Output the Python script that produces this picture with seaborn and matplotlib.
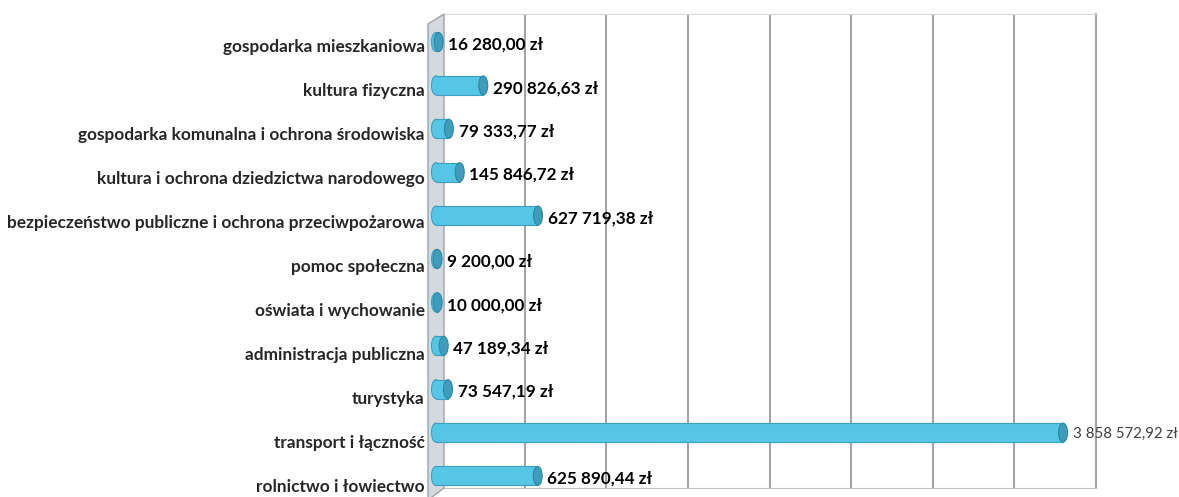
import matplotlib
matplotlib.use('Agg')
import matplotlib.pyplot as plt
from matplotlib.patches import Ellipse, Polygon
import seaborn as sns
import pandas as pd

# Wartości (wydatki wg działów)
categories = [
    "gospodarka mieszkaniowa",
    "kultura fizyczna",
    "gospodarka komunalna i ochrona środowiska",
    "kultura i ochrona dziedzictwa narodowego",
    "bezpieczeństwo publiczne i ochrona przeciwpożarowa",
    "pomoc społeczna",
    "oświata i wychowanie",
    "administracja publiczna",
    "turystyka",
    "transport i łączność",
    "rolnictwo i łowiectwo",
]
values = [16280.00, 290826.63, 79333.77, 145846.72, 627719.38, 9200.00,
          10000.00, 47189.34, 73547.19, 3858572.92, 625890.44]
x_max = 4000000
grid_step = 500000

sns.set_style('white')
plt.rcParams['font.family'] = ['Lato', 'DejaVu Sans']

W, H = 1179, 497
fig = plt.figure(figsize=(W / 100, H / 100), dpi=100)


def frac(x0, y0, x1, y1):
    # pixel box (top-left origin) -> figure fraction rect
    return [x0 / W, 1 - y1 / H, (x1 - x0) / W, (y1 - y0) / H]


def money(v):
    return f"{v:,.2f}".replace(",", " ").replace(".", ",") + " zł"


df = pd.DataFrame({'kategoria': categories, 'kwota': values})

# back wall with grid and category labels
ax_back = fig.add_axes(frac(443, 14, 1096, 488))
ax_back.set_xlim(0, x_max)
ax_back.set_ylim(len(categories) - 1 + 0.068, -0.705)
ax_back.set_xticks(range(0, x_max + 1, grid_step))
ax_back.set_xticklabels([])
ax_back.set_yticks(range(len(categories)))
ax_back.set_yticklabels(categories, fontsize=12.4, fontweight='bold', color='#262626')
ax_back.tick_params(axis='y', length=0, pad=13)
ax_back.tick_params(axis='x', length=7, color='#b4b4b4', direction='out')
ax_back.grid(axis='x', color='#a4a4a4', linewidth=1.5)
ax_back.spines['left'].set_visible(False)
ax_back.spines['top'].set_color('#d9d9d9')
ax_back.spines['right'].set_color('#a4a4a4')
ax_back.spines['right'].set_linewidth(1.5)
ax_back.spines['bottom'].set_color('#c4c4c4')
ax_back.set_zorder(0)

# left side wall
wall_px = [(428, 24), (444, 14), (444, 488), (428, 500)]
wall = Polygon([(x / W, 1 - y / H) for x, y in wall_px], closed=True,
               transform=fig.transFigure, facecolor='#d3d9dc',
               edgecolor='#9ea4a7', linewidth=1.0, zorder=0.5)
fig.add_artist(wall)

# front plane with cylinder bars
ax = fig.add_axes(frac(436, 14, 1086, 497))
ax.set_zorder(1)
ax.patch.set_alpha(0)
bar_h = 0.438
sns.barplot(data=df, x='kwota', y='kategoria', orient='h', ax=ax,
            color='#55c6e6', saturation=1, width=bar_h,
            edgecolor='#3d9fbf', linewidth=0.8, zorder=2)
ax.set_xlim(0, x_max)
ax.set_ylim(len(categories) - 1 + 0.484, -0.645)
ax.set_axis_off()

cap_w = 9 * x_max / 650
for i, v in enumerate(values):
    ax.add_patch(Ellipse((0, i), cap_w, bar_h, facecolor='#55c6e6',
                         edgecolor='#3d9fbf', linewidth=0.8, zorder=1.5,
                         clip_on=False))
    ax.add_patch(Ellipse((0, i), cap_w * 0.8, bar_h * 0.9, facecolor='#55c6e6',
                         edgecolor='none', zorder=2.5, clip_on=False))
    ax.add_patch(Ellipse((v, i), cap_w, bar_h, facecolor='#3e9dbb',
                         edgecolor='#2f87a5', linewidth=0.8, zorder=3,
                         clip_on=False))
    if v > 0.9 * x_max:
        ax.annotate(money(v), (v, i), xytext=(7, -1), textcoords='offset points',
                    ha='left', va='center', fontsize=10.8, color='#404040',
                    annotation_clip=False)
    else:
        ax.annotate(money(v), (v, i), xytext=(7, -2), textcoords='offset points',
                    ha='left', va='center', fontsize=12.3, fontweight='bold',
                    color='black', annotation_clip=False)

fig.savefig('out.png', dpi=100, facecolor='white')
